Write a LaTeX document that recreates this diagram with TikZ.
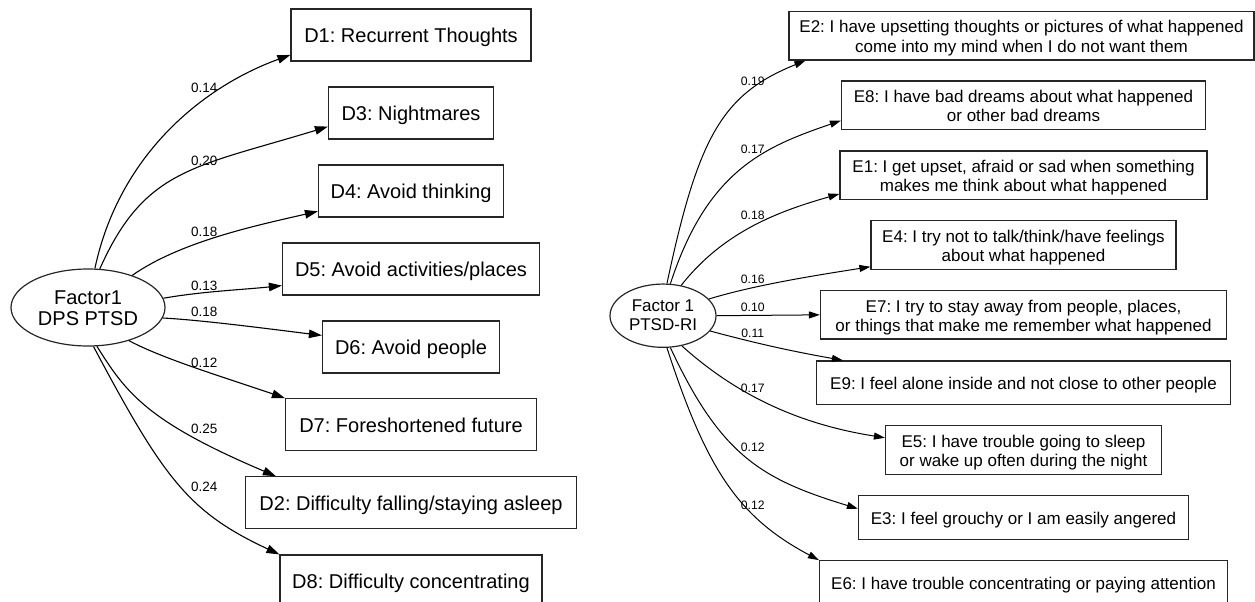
\documentclass[tikz,border=0pt]{standalone}
\usepackage{fontspec}
\setmainfont{Liberation Sans}
\usetikzlibrary{arrows.meta,shapes.geometric}
\begin{document}
\frenchspacing
\begin{tikzpicture}[x=1pt,y=1pt,
  lbox/.style={draw=black!85, line width=1.2pt, rectangle, minimum height=52pt, inner sep=0pt,
    font=\fontsize{20}{24}\selectfont, text height=15pt, text depth=0pt},
  rbox1/.style={draw=black!85, line width=1.2pt, rectangle, minimum height=43.6pt, inner sep=0pt,
    font=\fontsize{17}{19.3}\selectfont, text height=13.2pt, text depth=0pt, align=center},
  rbox2/.style={rbox1, minimum height=48.3pt, text height=32.9pt, text depth=0pt},
  lfac/.style={ellipse, draw=black!85, line width=1.2pt, minimum width=154pt, minimum height=77pt,
    inner sep=0pt, align=center, font=\fontsize{20}{21}\selectfont, text height=36pt, text depth=0pt},
  rfac/.style={ellipse, draw=black!85, line width=1.2pt, minimum width=106pt, minimum height=63.3pt,
    inner sep=0pt, align=center, font=\fontsize{17}{19.3}\selectfont, text height=29.3pt, text depth=0pt},
  ledge/.style={line width=1.1pt, -{Triangle[length=13pt,width=8.5pt]}},
  redge/.style={line width=1pt, -{Triangle[length=11pt,width=7pt]}},
  llab/.style={font=\fontsize{13.5}{16}\selectfont, inner sep=0pt},
  rlab/.style={font=\fontsize{12.2}{14}\selectfont, inner sep=0pt}
]
\useasboundingbox (0,0) rectangle (1255,-602);
\clip (0,0) rectangle (1255,-602);

% ---------- left model ----------
\node[lfac] (F1) at (88,-307.5) {Factor1\\DPS PTSD};
\node[lbox, minimum width=240pt] (D1) at (411,-35) {D1: Recurrent Thoughts};
\node[lbox, minimum width=165pt] (D3) at (411,-113) {D3: Nightmares};
\node[lbox, minimum width=185pt] (D4) at (411,-191) {D4: Avoid thinking};
\node[lbox, minimum width=257pt] (D5) at (411,-269) {D5: Avoid activities/places};
\node[lbox, minimum width=177pt] (D6) at (411,-347) {D6: Avoid people};
\node[lbox, minimum width=251pt] (D7) at (411,-424.7) {D7: Foreshortened future};
\node[lbox, minimum width=331pt] (D2) at (411,-502.8) {D2: Difficulty falling/staying asleep};
\node[lbox, minimum width=262pt] (D8) at (411,-581) {D8: Difficulty concentrating};

\draw[ledge] (F1.80) .. controls +(78:115) and +(200:95) .. ([yshift=6.7pt]D1.south west)
  node[llab] at (204.3,-87.7) {0.14};
\draw[ledge] (F1.73) .. controls +(66:110) and +(197:140) .. ([yshift=13pt]D3.south west)
  node[llab] at (204.3,-160.7) {0.20};
\draw[ledge] (F1.36) .. controls +(35:60) and +(193:60) .. ([yshift=6.3pt]D4.south west)
  node[llab] at (204.3,-232.3) {0.18};
\draw[ledge] (F1.7) .. controls +(10:40) and +(186:40) .. ([yshift=10pt]D5.south west)
  node[llab] at (204.3,-285.7) {0.13};
\draw[ledge] (F1.-8) .. controls +(-3:40) and +(173:50) .. ([yshift=-15pt]D6.north west)
  node[llab] at (204.3,-312.3) {0.18};
\draw[ledge] (F1.-39) .. controls +(-28:40) and +(161:60) .. (D7.north west)
  node[llab] at (204.3,-362.7) {0.12};
\draw[ledge] (F1.-77) .. controls +(-58:55) and +(157:140) .. ([xshift=31pt]D2.north west)
  node[llab] at (204.3,-429) {0.25};
\draw[ledge] (F1.-82) .. controls +(-62:150) and +(155:100) .. (D8.north west)
  node[llab] at (204.3,-486.7) {0.24};

% ---------- right model ----------
\node[rfac] (F2) at (663,-315.7) {Factor 1\\PTSD-RI};
\node[rbox2, minimum width=465pt] (E2) at (1021.5,-35.85) {E2: I have upsetting thoughts or pictures of what happened\\come into my mind when I do not want them};
\node[rbox2, minimum width=364pt] (E8) at (1023.5,-105.15) {E8: I have bad dreams about what happened\\or other bad dreams};
\node[rbox2, minimum width=367pt] (E1) at (1023.5,-175.15) {E1: I get upset, afraid or sad when something\\makes me think about what happened};
\node[rbox2, minimum width=305pt] (E4) at (1023.5,-245) {E4: I try not to talk/think/have feelings\\about what happened};
\node[rbox2, minimum width=406pt] (E7) at (1023.5,-314.85) {E7: I try to stay away from people, places,\\or things that make me remember what happened};
\node[rbox1, minimum width=414pt] (E9) at (1023.5,-382.7) {E9: I feel alone inside and not close to other people};
\node[rbox2, minimum width=276pt] (E5) at (1023.5,-450) {E5: I have trouble going to sleep\\or wake up often during the night};
\node[rbox1, minimum width=330pt] (E3) at (1023.5,-517.5) {E3: I feel grouchy or I am easily angered};
\node[rbox1, minimum width=408pt] (E6) at (1023.5,-582.5) {E6: I have trouble concentrating or paying attention};

\draw[redge] (F2.83) .. controls +(78:150) and +(202:90) .. ([xshift=17pt]E2.south west)
  node[rlab] at (752.8,-81.7) {0.19};
\draw[redge] (F2.77) .. controls +(72:120) and +(199:80) .. ([yshift=9.3pt]E8.south west)
  node[rlab] at (752.8,-149) {0.17};
\draw[redge] (F2.59) .. controls +(52:70) and +(196:60) .. ([yshift=6pt]E1.south west)
  node[rlab] at (752.8,-215) {0.18};
\draw[redge] (F2.20) .. controls +(17:50) and +(189:50) .. ([yshift=3pt]E4.south west)
  node[rlab] at (752.8,-279.3) {0.16};
\draw[redge] (F2.east) -- (E7.west)
  node[rlab] at (752.8,-307.3) {0.10};
\draw[redge] (F2.-18) .. controls +(-15:50) and +(170:50) .. ([xshift=27pt]E9.north west)
  node[rlab] at (752.8,-333.3) {0.11};
\draw[redge] (F2.-58) .. controls +(-42:80) and +(171:80) .. ([yshift=-12.5pt]E5.north west)
  node[rlab] at (752.8,-388.3) {0.17};
\draw[redge] (F2.-77) .. controls +(-65:120) and +(163:100) .. ([yshift=-13.6pt]E3.north west)
  node[rlab] at (752.8,-447.7) {0.12};
\draw[redge] (F2.-83) .. controls +(-72:130) and +(152:90) .. (E6.north west)
  node[rlab] at (752.8,-505.7) {0.12};
\end{tikzpicture}
\end{document}
